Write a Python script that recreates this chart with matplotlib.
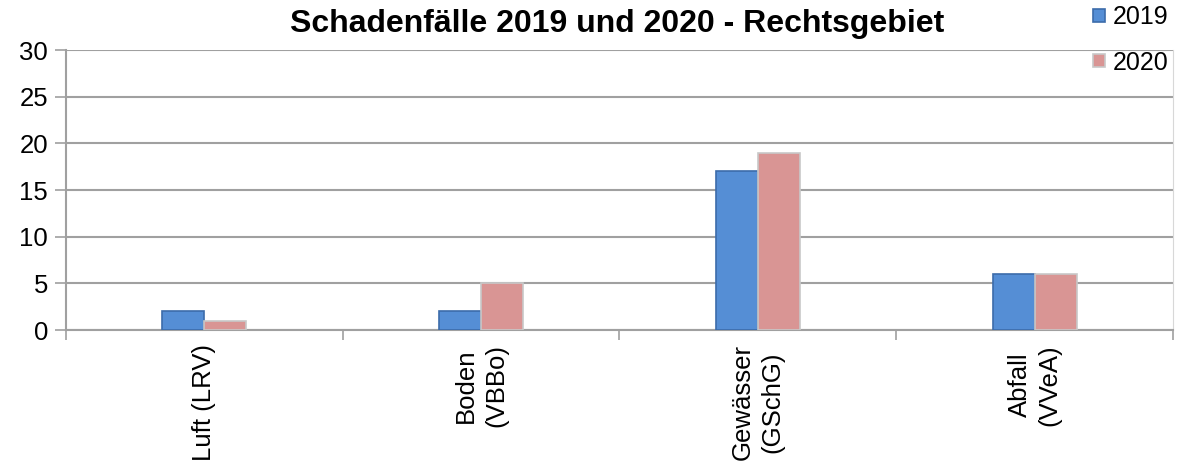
import matplotlib.pyplot as plt
import numpy as np

plt.rcParams['font.family'] = ['Liberation Sans', 'DejaVu Sans']

categories = ['Luft (LRV)', 'Boden\n(VBBo)', 'Gewässer\n(GSchG)', 'Abfall\n(VVeA)']
years = ['2019', '2020']
values_2019 = [2, 2, 17, 6]
values_2020 = [1, 5, 19, 6]

fig = plt.figure(figsize=(11.82, 4.72), dpi=100)
ax = fig.add_axes([0.0558, 0.3008, 0.9366, 0.5932])

x = np.arange(len(categories))
w = 0.152
b1 = ax.bar(x - w / 2, values_2019, w, color='#558ED5', edgecolor='#3C6CAA', linewidth=1.2, label=years[0], zorder=3)
b2 = ax.bar(x + w / 2, values_2020, w, color='#D99594', edgecolor='#C8C8C8', linewidth=1.2, label=years[1], zorder=3)

ax.set_xlim(-0.5, len(categories) - 0.5)
ax.set_ylim(0, 30)
ax.set_yticks(range(0, 31, 5))
ax.yaxis.grid(True, color='#A0A0A0', linewidth=1.5, zorder=0)
ax.set_axisbelow(True)

ax.set_xticks(np.arange(-0.5, len(categories)), minor=False)
ax.set_xticklabels([])
ax.set_xticks(x, minor=True)
ax.set_xticklabels(categories, minor=True, rotation=90, fontsize=18.5, va='top', ha='center', linespacing=1.3)
ax.tick_params(axis='x', which='major', length=7, color='#A0A0A0', width=1.2)
ax.tick_params(axis='x', which='minor', length=0, pad=10)
ax.tick_params(axis='y', length=8, color='#A0A0A0', width=1.2, labelsize=18.5, pad=5)

for s in ['left', 'bottom']:
    ax.spines[s].set_color('#A0A0A0')
    ax.spines[s].set_linewidth(1.5)
ax.spines['top'].set_visible(False)
ax.spines['right'].set_color('#D8D8D8')

fig.text(0.522, 0.949, 'Schadenfälle 2019 und 2020 - Rechtsgebiet', ha='center', va='center',
         fontsize=23, fontweight='bold')

fig.legend(handles=[b1, b2], loc='upper left', bbox_to_anchor=(0.916, 1.01), frameon=False,
           fontsize=18, handlelength=0.5, handleheight=0.45, handletextpad=0.3, labelspacing=0.85,
           borderaxespad=0)

fig.savefig('out.png', dpi=100)
